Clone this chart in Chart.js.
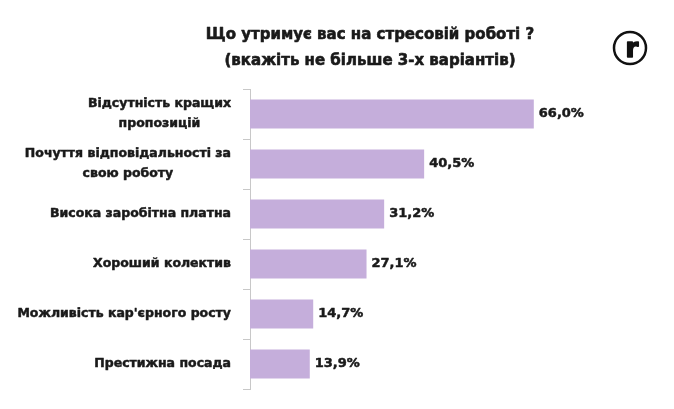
<!DOCTYPE html>
<html>
<head>
<meta charset="utf-8">
<script src="https://cdn.jsdelivr.net/npm/chart.js@4"></script>
<style>
  html, body { margin: 0; padding: 0; background: #fff; }
  #wrap { width: 674px; height: 409px; }
</style>
</head>
<body>
<div id="wrap"><canvas id="mycanvas" width="674" height="409"></canvas></div>
<script>
// chart data
var categories = [
  ["Відсутність кращих", "пропозицій"],
  ["Почуття відповідальності за", "свою роботу"],
  ["Висока заробітна платна"],
  ["Хороший колектив"],
  ["Можливість кар'єрного росту"],
  ["Престижна посада"]
];
var values = [66.0, 40.5, 31.2, 27.1, 14.7, 13.9];
var titleLines = ["Що утримує вас на стресовій роботі ?", "(вкажіть не більше 3-х варіантів)"];

var FONT = "'DejaVu Sans', sans-serif";

function fmt(v) {
  return v.toFixed(1).replace(".", ",") + "%";
}

// heavier text: fill plus a thin outline of the same colour
function heavyText(ctx, s, x, y, w) {
  ctx.fillText(s, x, y);
  ctx.lineWidth = w;
  ctx.strokeText(s, x, y);
}

// draws title, logo, category labels and value labels
var textPlugin = {
  id: 'texts',
  afterDraw: function(chart) {
    var ctx = chart.ctx;
    var yScale = chart.scales.y;
    var meta = chart.getDatasetMeta(0);
    ctx.save();
    ctx.fillStyle = '#1a1a1a';
    ctx.strokeStyle = '#1a1a1a';
    ctx.lineJoin = 'round';
    ctx.textBaseline = 'middle';

    // title
    ctx.font = "bold 15px " + FONT;
    ctx.textAlign = 'center';
    heavyText(ctx, titleLines[0], 370, 35, 0.6);
    heavyText(ctx, titleLines[1], 370, 61, 0.6);

    // logo
    ctx.beginPath();
    ctx.lineWidth = 2.5;
    ctx.strokeStyle = '#111';
    ctx.arc(630, 48, 16, 0, Math.PI * 2);
    ctx.stroke();
    ctx.font = "bold 26px " + FONT;
    ctx.textBaseline = 'alphabetic';
    ctx.fillStyle = '#111';
    heavyText(ctx, "r", 632, 57, 1.6);
    ctx.textBaseline = 'middle';
    ctx.fillStyle = '#1a1a1a';
    ctx.strokeStyle = '#1a1a1a';

    // category labels: block right-aligned, lines centered in block
    ctx.font = "bold 12.5px " + FONT;
    var rightEdge = 231;
    for (var i = 0; i < categories.length; i++) {
      var lines = categories[i];
      var yc = yScale.getPixelForTick(i);
      var widest = 0;
      lines.forEach(function(l) { widest = Math.max(widest, ctx.measureText(l).width); });
      var cx = rightEdge - widest / 2;
      var lh = 20;
      var y0 = yc - (lines.length - 1) * lh / 2;
      ctx.textAlign = 'center';
      for (var j = 0; j < lines.length; j++) {
        heavyText(ctx, lines[j], cx, y0 + j * lh, 0.5);
      }
    }

    // value labels
    ctx.font = "bold 13px " + FONT;
    ctx.textAlign = 'left';
    meta.data.forEach(function(bar, k) {
      heavyText(ctx, fmt(values[k]), bar.x + 5, bar.y, 0.5);
    });
    ctx.restore();
  }
};

var ctx = document.getElementById('mycanvas');
var barGraph = new Chart(ctx, {
  type: 'bar',
  data: {
    labels: categories,
    datasets: [{
      data: values,
      backgroundColor: '#c5aedb',
      borderWidth: 0,
      categoryPercentage: 1,
      barPercentage: 0.58
    }]
  },
  options: {
    indexAxis: 'y',
    responsive: false,
    animation: false,
    layout: { padding: { top: 89, bottom: 20, left: 0, right: 80 } },
    plugins: {
      legend: { display: false },
      tooltip: { enabled: false }
    },
    scales: {
      x: {
        display: false,
        min: 0,
        max: 80
      },
      y: {
        afterFit: function(scale) { scale.width = 250; },
        ticks: { display: false },
        grid: {
          drawOnChartArea: false,
          drawTicks: true,
          tickLength: 7,
          color: '#c8c8c8',
          offset: true
        },
        border: { display: true, color: '#c8c8c8', width: 1 }
      }
    }
  },
  plugins: [textPlugin]
});
</script>
</body>
</html>
